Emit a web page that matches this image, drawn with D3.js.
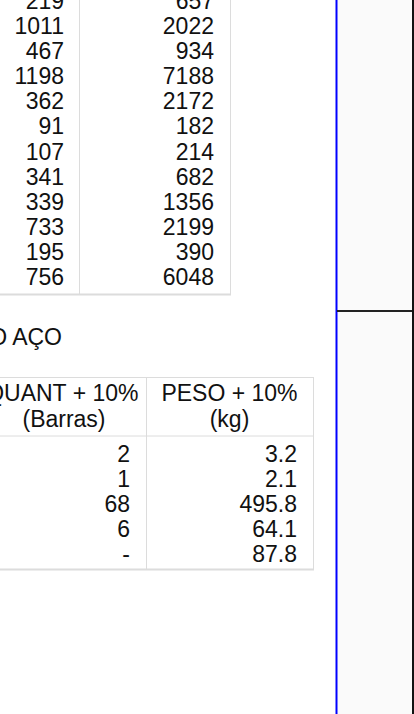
<!DOCTYPE html>
<html>
<head>
<meta charset="utf-8">
<script src="https://cdn.jsdelivr.net/npm/d3@7/dist/d3.min.js"></script>
<style>
  html, body { margin: 0; padding: 0; background: #fff; overflow: hidden; }
  svg { display: block; }
  text { font-family: "Liberation Sans", Arial, sans-serif; fill: #111; }
</style>
</head>
<body>
<div id="chartDiv"></div>
<script>
// top table (tail of the list, first row cut off by the page edge)
const topQuant = [219, 1011, 467, 1198, 362, 91, 107, 341, 339, 733, 195, 756];
const topPeso = [657, 2022, 934, 7188, 2172, 182, 214, 682, 1356, 2199, 390, 6048];

// steel summary table
const sectionTitle = "RESUMO DO AÇO";
const headQuant = ["QUANT + 10%", "(Barras)"];
const headPeso = ["PESO + 10%", "(kg)"];
const quantPlus = ["2", "1", "68", "6", "-"];
const pesoPlus = ["3.2", "2.1", "495.8", "64.1", "87.8"];

const width = 414, height = 714;
const fontSize = 23;
const gridColor = "#dcdcdc";

const svg = d3.select("#chartDiv")
    .append("svg")
    .attr("width", width)
    .attr("height", height);

// right-hand panel behind the blue margin line
svg.append("rect")
    .attr("x", 337).attr("y", 0)
    .attr("width", width - 337).attr("height", height)
    .style("fill", "#fafafa");

/* ---------- top table ---------- */
const yTop = d3.scaleLinear()
    .domain([1, topQuant.length - 1])
    .range([34, 285]);

const topG = svg.append("g");
topG.selectAll("text.q")
    .data(topQuant)
    .join("text")
    .attr("class", "q")
    .attr("x", 64)
    .attr("y", (d, i) => yTop(i))
    .attr("text-anchor", "end")
    .style("font-size", fontSize + "px")
    .text(d => d);

topG.selectAll("text.p")
    .data(topPeso)
    .join("text")
    .attr("class", "p")
    .attr("x", 214)
    .attr("y", (d, i) => yTop(i))
    .attr("text-anchor", "end")
    .style("font-size", fontSize + "px")
    .text(d => d);

// grid of the top table
topG.append("line")
    .attr("x1", 79.5).attr("x2", 79.5).attr("y1", 0).attr("y2", 294)
    .style("stroke", gridColor);
topG.append("line")
    .attr("x1", 230.5).attr("x2", 230.5).attr("y1", 0).attr("y2", 294.5)
    .style("stroke", gridColor);
topG.append("line")
    .attr("x1", 0).attr("x2", 231).attr("y1", 294.5).attr("y2", 294.5)
    .style("stroke", gridColor).style("stroke-width", 2);

/* ---------- section title ---------- */
svg.append("text")
    .attr("x", 62)
    .attr("y", 345)
    .attr("text-anchor", "end")
    .style("font-size", fontSize + "px")
    .text(sectionTitle);

/* ---------- steel table ---------- */
const yBot = d3.scaleLinear()
    .domain([0, quantPlus.length - 1])
    .range([462, 562]);

const botG = svg.append("g");

// header lines
botG.selectAll("text.hq")
    .data(headQuant)
    .join("text")
    .attr("class", "hq")
    .attr("x", (d, i) => i === 0 ? 138.5 : 64)
    .attr("y", (d, i) => i === 0 ? 401 : 426.5)
    .attr("text-anchor", (d, i) => i === 0 ? "end" : "middle")
    .style("font-size", fontSize + "px")
    .text(d => d);

botG.selectAll("text.hp")
    .data(headPeso)
    .join("text")
    .attr("class", "hp")
    .attr("x", 229.5)
    .attr("y", (d, i) => i === 0 ? 401 : 426.5)
    .attr("text-anchor", "middle")
    .style("font-size", fontSize + "px")
    .text(d => d);

botG.selectAll("text.vq")
    .data(quantPlus)
    .join("text")
    .attr("class", "vq")
    .attr("x", 130)
    .attr("y", (d, i) => yBot(i))
    .attr("text-anchor", "end")
    .style("font-size", fontSize + "px")
    .text(d => d);

botG.selectAll("text.vp")
    .data(pesoPlus)
    .join("text")
    .attr("class", "vp")
    .attr("x", 297)
    .attr("y", (d, i) => yBot(i))
    .attr("text-anchor", "end")
    .style("font-size", fontSize + "px")
    .text(d => d);

// grid of the steel table
[[0, 377.5, 314, 377.5], [0, 436, 314, 436], [0, 569.5, 314, 569.5],
 [146.5, 377, 146.5, 570], [313.5, 377, 313.5, 570]].forEach(l => {
    botG.append("line")
        .attr("x1", l[0]).attr("y1", l[1]).attr("x2", l[2]).attr("y2", l[3])
        .style("stroke", gridColor)
        .style("stroke-width", l[1] === 569.5 ? 2 : 1);
});

/* ---------- page frame ---------- */
svg.append("line")
    .attr("x1", 336.5).attr("x2", 336.5).attr("y1", 0).attr("y2", height)
    .style("stroke", "#0000ff").style("stroke-width", 2);
svg.append("line")
    .attr("x1", 337).attr("x2", width).attr("y1", 311).attr("y2", 311)
    .style("stroke", "#222").style("stroke-width", 2);
svg.append("line")
    .attr("x1", 413).attr("x2", 413).attr("y1", 0).attr("y2", height)
    .style("stroke", "#111").style("stroke-width", 2);
</script>
</body>
</html>
